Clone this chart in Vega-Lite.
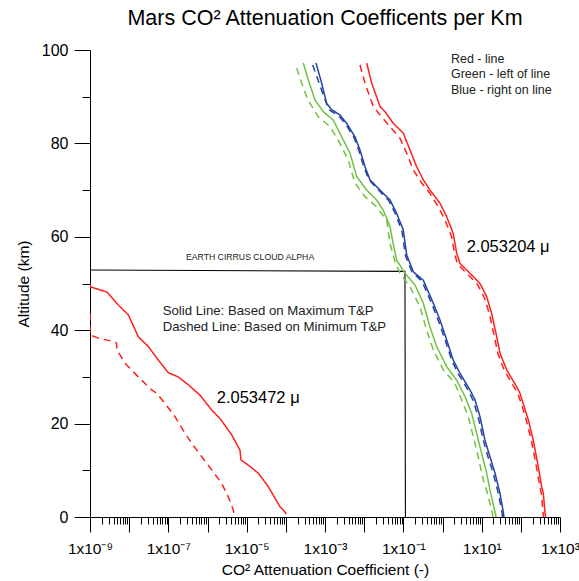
{
  "$schema": "https://vega.github.io/schema/vega-lite/v6.json",
  "width": 470,
  "height": 467,
  "autosize": {"type": "none"},
  "padding": {"left": 90, "top": 50, "right": 19, "bottom": 64},
  "background": "white",
  "config": {"view": {"stroke": null}, "font": "Liberation Sans"},
  "title": {"text": "Mars CO² Attenuation Coefficents per Km", "fontSize": 21.5, "font": "Liberation Sans", "fontWeight": "normal", "color": "black", "anchor": "middle", "offset": 13},
  "datasets": {
    "curves": [
      {"series": "r1", "style": "solid", "i": 0, "coef": 1e-9, "alt": 50.0},
      {"series": "r1", "style": "solid", "i": 1, "coef": 1e-9, "alt": 49.3},
      {"series": "r1", "style": "solid", "i": 2, "coef": 2.67e-9, "alt": 48.2},
      {"series": "r1", "style": "solid", "i": 3, "coef": 5.27e-9, "alt": 45.4},
      {"series": "r1", "style": "solid", "i": 4, "coef": 9.5e-9, "alt": 43.3},
      {"series": "r1", "style": "solid", "i": 5, "coef": 1.71e-8, "alt": 38.6},
      {"series": "r1", "style": "solid", "i": 6, "coef": 3.08e-8, "alt": 36.5},
      {"series": "r1", "style": "solid", "i": 7, "coef": 5.55e-8, "alt": 33.6},
      {"series": "r1", "style": "solid", "i": 8, "coef": 9.98e-8, "alt": 30.9},
      {"series": "r1", "style": "solid", "i": 9, "coef": 1.79e-7, "alt": 30.0},
      {"series": "r1", "style": "solid", "i": 10, "coef": 3.24e-7, "alt": 28.3},
      {"series": "r1", "style": "solid", "i": 11, "coef": 6.43e-7, "alt": 26.1},
      {"series": "r1", "style": "solid", "i": 12, "coef": 1.28e-6, "alt": 22.9},
      {"series": "r1", "style": "solid", "i": 13, "coef": 2.08e-6, "alt": 21.1},
      {"series": "r1", "style": "solid", "i": 14, "coef": 4.15e-6, "alt": 17.6},
      {"series": "r1", "style": "solid", "i": 15, "coef": 6.75e-6, "alt": 14.3},
      {"series": "r1", "style": "solid", "i": 16, "coef": 7.16e-6, "alt": 12.2},
      {"series": "r1", "style": "solid", "i": 17, "coef": 1.10e-5, "alt": 11.1},
      {"series": "r1", "style": "solid", "i": 18, "coef": 1.98e-5, "alt": 9.4},
      {"series": "r1", "style": "solid", "i": 19, "coef": 3.56e-5, "alt": 6.5},
      {"series": "r1", "style": "solid", "i": 20, "coef": 7.10e-5, "alt": 2.2},
      {"series": "r1", "style": "solid", "i": 21, "coef": 9.5e-5, "alt": 1.1},
      {"series": "r1", "style": "solid", "i": 22, "coef": 1.02e-4, "alt": 0.6},

      {"series": "r1", "style": "dashed", "i": 0, "coef": 1e-9, "alt": 43.6},
      {"series": "r1", "style": "dashed", "i": 1, "coef": 1e-9, "alt": 39.0},
      {"series": "r1", "style": "dashed", "i": 2, "coef": 1.63e-9, "alt": 38.3},
      {"series": "r1", "style": "dashed", "i": 3, "coef": 4.35e-9, "alt": 37.5},
      {"series": "r1", "style": "dashed", "i": 4, "coef": 4.80e-9, "alt": 37.2},
      {"series": "r1", "style": "dashed", "i": 5, "coef": 4.80e-9, "alt": 35.9},
      {"series": "r1", "style": "dashed", "i": 6, "coef": 7.83e-9, "alt": 32.9},
      {"series": "r1", "style": "dashed", "i": 7, "coef": 1.71e-8, "alt": 30.0},
      {"series": "r1", "style": "dashed", "i": 8, "coef": 3.76e-8, "alt": 27.2},
      {"series": "r1", "style": "dashed", "i": 9, "coef": 5.05e-8, "alt": 26.5},
      {"series": "r1", "style": "dashed", "i": 10, "coef": 8.22e-8, "alt": 24.3},
      {"series": "r1", "style": "dashed", "i": 11, "coef": 1.48e-7, "alt": 21.5},
      {"series": "r1", "style": "dashed", "i": 12, "coef": 2.66e-7, "alt": 17.9},
      {"series": "r1", "style": "dashed", "i": 13, "coef": 3.94e-7, "alt": 15.8},
      {"series": "r1", "style": "dashed", "i": 14, "coef": 7.11e-7, "alt": 12.9},
      {"series": "r1", "style": "dashed", "i": 15, "coef": 1.28e-6, "alt": 10.1},
      {"series": "r1", "style": "dashed", "i": 16, "coef": 2.30e-6, "alt": 7.2},
      {"series": "r1", "style": "dashed", "i": 17, "coef": 3.40e-6, "alt": 4.3},
      {"series": "r1", "style": "dashed", "i": 18, "coef": 4.55e-6, "alt": 1.5},
      {"series": "r1", "style": "dashed", "i": 19, "coef": 4.7e-6, "alt": 0.8},

      {"series": "b", "style": "solid", "i": 0, "coef": 5.89e-4, "alt": 97.2},
      {"series": "b", "style": "solid", "i": 1, "coef": 8.22e-4, "alt": 92.9},
      {"series": "b", "style": "solid", "i": 2, "coef": 1.10e-3, "alt": 88.6},
      {"series": "b", "style": "solid", "i": 3, "coef": 1.48e-3, "alt": 87.2},
      {"series": "b", "style": "solid", "i": 4, "coef": 2.41e-3, "alt": 86.1},
      {"series": "b", "style": "solid", "i": 5, "coef": 3.57e-3, "alt": 84.3},
      {"series": "b", "style": "solid", "i": 6, "coef": 5.82e-3, "alt": 81.4},
      {"series": "b", "style": "solid", "i": 7, "coef": 7.82e-3, "alt": 78.6},
      {"series": "b", "style": "solid", "i": 8, "coef": 1.05e-2, "alt": 75.0},
      {"series": "b", "style": "solid", "i": 9, "coef": 1.41e-2, "alt": 72.2},
      {"series": "b", "style": "solid", "i": 10, "coef": 2.54e-2, "alt": 70.0},
      {"series": "b", "style": "solid", "i": 11, "coef": 4.56e-2, "alt": 67.9},
      {"series": "b", "style": "solid", "i": 12, "coef": 6.76e-2, "alt": 65.0},
      {"series": "b", "style": "solid", "i": 13, "coef": 9.95e-2, "alt": 61.5},
      {"series": "b", "style": "solid", "i": 14, "coef": 0.122, "alt": 56.1},
      {"series": "b", "style": "solid", "i": 15, "coef": 0.180, "alt": 52.5},
      {"series": "b", "style": "solid", "i": 16, "coef": 0.323, "alt": 50.7},
      {"series": "b", "style": "solid", "i": 17, "coef": 0.581, "alt": 45.8},
      {"series": "b", "style": "solid", "i": 18, "coef": 0.861, "alt": 42.2},
      {"series": "b", "style": "solid", "i": 19, "coef": 1.28, "alt": 37.9},
      {"series": "b", "style": "solid", "i": 20, "coef": 1.88, "alt": 33.6},
      {"series": "b", "style": "solid", "i": 21, "coef": 2.79, "alt": 30.8},
      {"series": "b", "style": "solid", "i": 22, "coef": 5.02, "alt": 27.2},
      {"series": "b", "style": "solid", "i": 23, "coef": 6.75, "alt": 25.1},
      {"series": "b", "style": "solid", "i": 24, "coef": 9.06, "alt": 21.5},
      {"series": "b", "style": "solid", "i": 25, "coef": 12.1, "alt": 16.5},
      {"series": "b", "style": "solid", "i": 26, "coef": 16.3, "alt": 12.9},
      {"series": "b", "style": "solid", "i": 27, "coef": 21.9, "alt": 9.4},
      {"series": "b", "style": "solid", "i": 28, "coef": 29.3, "alt": 5.1},
      {"series": "b", "style": "solid", "i": 29, "coef": 35.6, "alt": 1.1},
      {"series": "b", "style": "solid", "i": 30, "coef": 37.1, "alt": 0},

      {"series": "b", "style": "dashed", "i": 0, "coef": 4.85e-4, "alt": 96.8},
      {"series": "b", "style": "dashed", "i": 1, "coef": 6.62e-4, "alt": 93.6},
      {"series": "b", "style": "dashed", "i": 2, "coef": 9.03e-4, "alt": 90.4},
      {"series": "b", "style": "dashed", "i": 3, "coef": 1.26e-3, "alt": 87.2},
      {"series": "b", "style": "dashed", "i": 4, "coef": 2.21e-3, "alt": 85.9},
      {"series": "b", "style": "dashed", "i": 5, "coef": 3.33e-3, "alt": 84.2},
      {"series": "b", "style": "dashed", "i": 6, "coef": 5.50e-3, "alt": 81.3},
      {"series": "b", "style": "dashed", "i": 7, "coef": 7.38e-3, "alt": 78.4},
      {"series": "b", "style": "dashed", "i": 8, "coef": 9.89e-3, "alt": 74.9},
      {"series": "b", "style": "dashed", "i": 9, "coef": 1.33e-2, "alt": 72.2},
      {"series": "b", "style": "dashed", "i": 10, "coef": 2.39e-2, "alt": 69.9},
      {"series": "b", "style": "dashed", "i": 11, "coef": 4.30e-2, "alt": 67.7},
      {"series": "b", "style": "dashed", "i": 12, "coef": 6.30e-2, "alt": 64.9},
      {"series": "b", "style": "dashed", "i": 13, "coef": 9.23e-2, "alt": 61.2},
      {"series": "b", "style": "dashed", "i": 14, "coef": 0.114, "alt": 55.9},
      {"series": "b", "style": "dashed", "i": 15, "coef": 0.166, "alt": 52.5},
      {"series": "b", "style": "dashed", "i": 16, "coef": 0.299, "alt": 50.5},
      {"series": "b", "style": "dashed", "i": 17, "coef": 0.538, "alt": 45.6},
      {"series": "b", "style": "dashed", "i": 18, "coef": 0.789, "alt": 42.0},
      {"series": "b", "style": "dashed", "i": 19, "coef": 1.19, "alt": 37.7},
      {"series": "b", "style": "dashed", "i": 20, "coef": 1.75, "alt": 33.4},
      {"series": "b", "style": "dashed", "i": 21, "coef": 2.56, "alt": 30.6},
      {"series": "b", "style": "dashed", "i": 22, "coef": 4.60, "alt": 27.0},
      {"series": "b", "style": "dashed", "i": 23, "coef": 6.18, "alt": 24.8},
      {"series": "b", "style": "dashed", "i": 24, "coef": 8.28, "alt": 21.2},
      {"series": "b", "style": "dashed", "i": 25, "coef": 11.1, "alt": 16.3},
      {"series": "b", "style": "dashed", "i": 26, "coef": 14.9, "alt": 12.6},
      {"series": "b", "style": "dashed", "i": 27, "coef": 20.0, "alt": 9.2},
      {"series": "b", "style": "dashed", "i": 28, "coef": 26.9, "alt": 4.9},
      {"series": "b", "style": "dashed", "i": 29, "coef": 33.0, "alt": 1.1},
      {"series": "b", "style": "dashed", "i": 30, "coef": 34.0, "alt": 0},

      {"series": "g", "style": "solid", "i": 0, "coef": 2.79e-4, "alt": 97.2},
      {"series": "g", "style": "solid", "i": 1, "coef": 3.74e-4, "alt": 93.6},
      {"series": "g", "style": "solid", "i": 2, "coef": 5.55e-4, "alt": 89.3},
      {"series": "g", "style": "solid", "i": 3, "coef": 9.03e-4, "alt": 86.8},
      {"series": "g", "style": "solid", "i": 4, "coef": 1.63e-3, "alt": 85.0},
      {"series": "g", "style": "solid", "i": 5, "coef": 2.67e-3, "alt": 81.4},
      {"series": "g", "style": "solid", "i": 6, "coef": 4.35e-3, "alt": 77.9},
      {"series": "g", "style": "solid", "i": 7, "coef": 6.44e-3, "alt": 72.9},
      {"series": "g", "style": "solid", "i": 8, "coef": 1.16e-2, "alt": 70.0},
      {"series": "g", "style": "solid", "i": 9, "coef": 2.08e-2, "alt": 67.9},
      {"series": "g", "style": "solid", "i": 10, "coef": 3.08e-2, "alt": 65.7},
      {"series": "g", "style": "solid", "i": 11, "coef": 4.56e-2, "alt": 62.2},
      {"series": "g", "style": "solid", "i": 12, "coef": 5.60e-2, "alt": 58.2},
      {"series": "g", "style": "solid", "i": 13, "coef": 6.76e-2, "alt": 55.0},
      {"series": "g", "style": "solid", "i": 14, "coef": 0.110, "alt": 52.2},
      {"series": "g", "style": "solid", "i": 15, "coef": 0.198, "alt": 49.7},
      {"series": "g", "style": "solid", "i": 16, "coef": 0.323, "alt": 45.8},
      {"series": "g", "style": "solid", "i": 17, "coef": 0.479, "alt": 40.7},
      {"series": "g", "style": "solid", "i": 18, "coef": 0.710, "alt": 36.5},
      {"series": "g", "style": "solid", "i": 19, "coef": 1.28, "alt": 32.2},
      {"series": "g", "style": "solid", "i": 20, "coef": 2.30, "alt": 29.3},
      {"series": "g", "style": "solid", "i": 21, "coef": 3.75, "alt": 25.8},
      {"series": "g", "style": "solid", "i": 22, "coef": 5.56, "alt": 22.2},
      {"series": "g", "style": "solid", "i": 23, "coef": 7.45, "alt": 17.9},
      {"series": "g", "style": "solid", "i": 24, "coef": 10.0, "alt": 13.6},
      {"series": "g", "style": "solid", "i": 25, "coef": 13.4, "alt": 9.4},
      {"series": "g", "style": "solid", "i": 26, "coef": 16.3, "alt": 5.8},
      {"series": "g", "style": "solid", "i": 27, "coef": 21.9, "alt": 1.1},
      {"series": "g", "style": "solid", "i": 28, "coef": 23.2, "alt": 0},

      {"series": "g", "style": "dashed", "i": 0, "coef": 1.89e-4, "alt": 96.1},
      {"series": "g", "style": "dashed", "i": 1, "coef": 2.54e-4, "alt": 92.9},
      {"series": "g", "style": "dashed", "i": 2, "coef": 3.67e-4, "alt": 89.3},
      {"series": "g", "style": "dashed", "i": 3, "coef": 6.75e-4, "alt": 85.7},
      {"series": "g", "style": "dashed", "i": 4, "coef": 1.34e-3, "alt": 83.6},
      {"series": "g", "style": "dashed", "i": 5, "coef": 2.41e-3, "alt": 80.0},
      {"series": "g", "style": "dashed", "i": 6, "coef": 3.93e-3, "alt": 76.4},
      {"series": "g", "style": "dashed", "i": 7, "coef": 5.82e-3, "alt": 71.5},
      {"series": "g", "style": "dashed", "i": 8, "coef": 1.05e-2, "alt": 68.6},
      {"series": "g", "style": "dashed", "i": 9, "coef": 2.08e-2, "alt": 66.4},
      {"series": "g", "style": "dashed", "i": 10, "coef": 3.76e-2, "alt": 63.6},
      {"series": "g", "style": "dashed", "i": 11, "coef": 4.56e-2, "alt": 58.6},
      {"series": "g", "style": "dashed", "i": 12, "coef": 6.12e-2, "alt": 54.7},
      {"series": "g", "style": "dashed", "i": 13, "coef": 8.20e-2, "alt": 52.2},
      {"series": "g", "style": "dashed", "i": 14, "coef": 0.148, "alt": 49.3},
      {"series": "g", "style": "dashed", "i": 15, "coef": 0.266, "alt": 45.0},
      {"series": "g", "style": "dashed", "i": 16, "coef": 0.394, "alt": 40.0},
      {"series": "g", "style": "dashed", "i": 17, "coef": 0.581, "alt": 35.8},
      {"series": "g", "style": "dashed", "i": 18, "coef": 1.05, "alt": 31.5},
      {"series": "g", "style": "dashed", "i": 19, "coef": 2.08, "alt": 28.6},
      {"series": "g", "style": "dashed", "i": 20, "coef": 3.08, "alt": 25.1},
      {"series": "g", "style": "dashed", "i": 21, "coef": 4.55, "alt": 21.5},
      {"series": "g", "style": "dashed", "i": 22, "coef": 6.11, "alt": 17.2},
      {"series": "g", "style": "dashed", "i": 23, "coef": 8.18, "alt": 12.9},
      {"series": "g", "style": "dashed", "i": 24, "coef": 11.0, "alt": 7.9},
      {"series": "g", "style": "dashed", "i": 25, "coef": 14.0, "alt": 5.1},
      {"series": "g", "style": "dashed", "i": 26, "coef": 18.5, "alt": 1.1},
      {"series": "g", "style": "dashed", "i": 27, "coef": 19.4, "alt": 0},

      {"series": "r2", "style": "solid", "i": 0, "coef": 1.16e-2, "alt": 97.2},
      {"series": "r2", "style": "solid", "i": 1, "coef": 1.56e-2, "alt": 92.9},
      {"series": "r2", "style": "solid", "i": 2, "coef": 2.54e-2, "alt": 87.9},
      {"series": "r2", "style": "solid", "i": 3, "coef": 3.40e-2, "alt": 86.8},
      {"series": "r2", "style": "solid", "i": 4, "coef": 5.53e-2, "alt": 84.3},
      {"series": "r2", "style": "solid", "i": 5, "coef": 9.95e-2, "alt": 82.2},
      {"series": "r2", "style": "solid", "i": 6, "coef": 0.148, "alt": 78.6},
      {"series": "r2", "style": "solid", "i": 7, "coef": 0.219, "alt": 75.0},
      {"series": "r2", "style": "solid", "i": 8, "coef": 0.323, "alt": 72.2},
      {"series": "r2", "style": "solid", "i": 9, "coef": 0.479, "alt": 70.0},
      {"series": "r2", "style": "solid", "i": 10, "coef": 0.861, "alt": 67.2},
      {"series": "r2", "style": "solid", "i": 11, "coef": 1.28, "alt": 64.3},
      {"series": "r2", "style": "solid", "i": 12, "coef": 1.88, "alt": 60.7},
      {"series": "r2", "style": "solid", "i": 13, "coef": 2.30, "alt": 56.5},
      {"series": "r2", "style": "solid", "i": 14, "coef": 2.79, "alt": 54.3},
      {"series": "r2", "style": "solid", "i": 15, "coef": 5.02, "alt": 52.2},
      {"series": "r2", "style": "solid", "i": 16, "coef": 9.06, "alt": 50.0},
      {"series": "r2", "style": "solid", "i": 17, "coef": 13.4, "alt": 47.2},
      {"series": "r2", "style": "solid", "i": 18, "coef": 18.0, "alt": 43.6},
      {"series": "r2", "style": "solid", "i": 19, "coef": 24.2, "alt": 38.6},
      {"series": "r2", "style": "solid", "i": 20, "coef": 29.3, "alt": 35.1},
      {"series": "r2", "style": "solid", "i": 21, "coef": 43.5, "alt": 31.5},
      {"series": "r2", "style": "solid", "i": 22, "coef": 78.2, "alt": 27.9},
      {"series": "r2", "style": "solid", "i": 23, "coef": 95.1, "alt": 26.5},
      {"series": "r2", "style": "solid", "i": 24, "coef": 115, "alt": 24.3},
      {"series": "r2", "style": "solid", "i": 25, "coef": 155, "alt": 20.8},
      {"series": "r2", "style": "solid", "i": 26, "coef": 207, "alt": 16.5},
      {"series": "r2", "style": "solid", "i": 27, "coef": 279, "alt": 10.8},
      {"series": "r2", "style": "solid", "i": 28, "coef": 340, "alt": 6.5},
      {"series": "r2", "style": "solid", "i": 29, "coef": 374, "alt": 5.1},
      {"series": "r2", "style": "solid", "i": 30, "coef": 413, "alt": 1.1},
      {"series": "r2", "style": "solid", "i": 31, "coef": 426, "alt": 0},

      {"series": "r2", "style": "dashed", "i": 0, "coef": 7.82e-3, "alt": 96.8},
      {"series": "r2", "style": "dashed", "i": 1, "coef": 1.05e-2, "alt": 92.9},
      {"series": "r2", "style": "dashed", "i": 2, "coef": 1.71e-2, "alt": 87.9},
      {"series": "r2", "style": "dashed", "i": 3, "coef": 2.54e-2, "alt": 86.1},
      {"series": "r2", "style": "dashed", "i": 4, "coef": 4.56e-2, "alt": 83.6},
      {"series": "r2", "style": "dashed", "i": 5, "coef": 8.20e-2, "alt": 81.1},
      {"series": "r2", "style": "dashed", "i": 6, "coef": 0.122, "alt": 77.9},
      {"series": "r2", "style": "dashed", "i": 7, "coef": 0.180, "alt": 74.3},
      {"series": "r2", "style": "dashed", "i": 8, "coef": 0.294, "alt": 71.5},
      {"series": "r2", "style": "dashed", "i": 9, "coef": 0.479, "alt": 69.3},
      {"series": "r2", "style": "dashed", "i": 10, "coef": 0.780, "alt": 66.4},
      {"series": "r2", "style": "dashed", "i": 11, "coef": 1.16, "alt": 63.6},
      {"series": "r2", "style": "dashed", "i": 12, "coef": 1.71, "alt": 60.0},
      {"series": "r2", "style": "dashed", "i": 13, "coef": 2.08, "alt": 56.1},
      {"series": "r2", "style": "dashed", "i": 14, "coef": 2.41, "alt": 54.2},
      {"series": "r2", "style": "dashed", "i": 15, "coef": 4.34, "alt": 52.0},
      {"series": "r2", "style": "dashed", "i": 16, "coef": 7.82, "alt": 49.8},
      {"series": "r2", "style": "dashed", "i": 17, "coef": 11.8, "alt": 46.9},
      {"series": "r2", "style": "dashed", "i": 18, "coef": 15.8, "alt": 43.5},
      {"series": "r2", "style": "dashed", "i": 19, "coef": 21.2, "alt": 38.5},
      {"series": "r2", "style": "dashed", "i": 20, "coef": 26.1, "alt": 34.9},
      {"series": "r2", "style": "dashed", "i": 21, "coef": 38.2, "alt": 31.3},
      {"series": "r2", "style": "dashed", "i": 22, "coef": 68.7, "alt": 27.7},
      {"series": "r2", "style": "dashed", "i": 23, "coef": 84.5, "alt": 26.3},
      {"series": "r2", "style": "dashed", "i": 24, "coef": 104, "alt": 24.2},
      {"series": "r2", "style": "dashed", "i": 25, "coef": 139, "alt": 20.6},
      {"series": "r2", "style": "dashed", "i": 26, "coef": 187, "alt": 16.3},
      {"series": "r2", "style": "dashed", "i": 27, "coef": 251, "alt": 10.7},
      {"series": "r2", "style": "dashed", "i": 28, "coef": 308, "alt": 6.4},
      {"series": "r2", "style": "dashed", "i": 29, "coef": 337, "alt": 4.9},
      {"series": "r2", "style": "dashed", "i": 30, "coef": 367, "alt": 1.1},
      {"series": "r2", "style": "dashed", "i": 31, "coef": 378, "alt": 0}
    ],
    "cirrus": [
      {"i": 0, "coef": 1e-9, "alt": 52.9},
      {"i": 1, "coef": 0.11, "alt": 52.6},
      {"i": 2, "coef": 0.113, "alt": 0}
    ]
  },
  "encoding": {
    "x": {
      "field": "coef", "type": "quantitative",
      "scale": {"type": "log", "domain": [1e-9, 1000], "nice": false},
      "axis": {
        "values": [1e-9,2e-9,3e-9,4e-9,5e-9,6e-9,7e-9,8e-9,9e-9,1e-8,2e-8,3e-8,4e-8,5e-8,6e-8,7e-8,8e-8,9e-8,1e-7,2e-7,3e-7,4e-7,5e-7,6e-7,7e-7,8e-7,9e-7,1e-6,2e-6,3e-6,4e-6,5e-6,6e-6,7e-6,8e-6,9e-6,1e-5,2e-5,3e-5,4e-5,5e-5,6e-5,7e-5,8e-5,9e-5,1e-4,2e-4,3e-4,4e-4,5e-4,6e-4,7e-4,8e-4,9e-4,0.001,0.002,0.003,0.004,0.005,0.006,0.007,0.008,0.009,0.01,0.02,0.03,0.04,0.05,0.06,0.07,0.08,0.09,0.1,0.2,0.3,0.4,0.5,0.6,0.7,0.8,0.9,1,2,3,4,5,6,7,8,9,10,20,30,40,50,60,70,80,90,100,200,300,400,500,600,700,800,900,1000],
        "labelExpr": "datum.value==1e-9?'1x10⁻⁹':datum.value==1e-7?'1x10⁻⁷':datum.value==1e-5?'1x10⁻⁵':datum.value==0.001?'1x10⁻³':datum.value==0.1?'1x10⁻¹':datum.value==10?'1x10¹':datum.value==1000?'1x10³':''",
        "tickSize": {"condition": {"test": "abs(log(datum.value)/LN10 - round(log(datum.value)/LN10)) < 0.01", "value": 15}, "value": 7},
        "grid": false,
        "domainColor": "black",
        "tickColor": "black",
        "labelFontSize": 15.5,
        "labelColor": "black",
        "labelFont": "Liberation Sans",
        "labelOverlap": false,
        "labelFlush": false,
        "labelPadding": 9,
        "title": "CO² Attenuation Coefficient (-)",
        "titleFont": "Liberation Sans",
        "titleFontSize": 15.5,
        "titleFontWeight": "normal",
        "titleColor": "black",
        "titlePadding": 6
      }
    },
    "y": {
      "field": "alt", "type": "quantitative",
      "scale": {"domain": [0, 100], "nice": false},
      "axis": {
        "values": [0,10,20,30,40,50,60,70,80,90,100],
        "labelExpr": "datum.value % 20 == 0 ? datum.label : ''",
        "tickSize": {"condition": {"test": "datum.value % 20 == 0", "value": 16}, "value": 8},
        "grid": false,
        "domainColor": "black",
        "tickColor": "black",
        "labelFontSize": 16,
        "labelColor": "black",
        "labelFont": "Liberation Sans",
        "labelOverlap": false,
        "labelPadding": 6,
        "title": "Altitude (km)",
        "titleFont": "Liberation Sans",
        "titleFontSize": 15.5,
        "titleFontWeight": "normal",
        "titleColor": "black",
        "titlePadding": 10
      }
    }
  },
  "layer": [
    {
      "data": {"name": "cirrus"},
      "mark": {"type": "line", "color": "black", "strokeWidth": 1.1, "clip": true},
      "encoding": {"order": {"field": "i", "type": "quantitative"}}
    },
    {
      "data": {"name": "curves"},
      "mark": {"type": "line", "strokeWidth": 1.5, "clip": true},
      "encoding": {
        "color": {"field": "series", "type": "nominal", "scale": {"domain": ["r1", "r2", "b", "g"], "range": ["#ff1f1f", "#ff1f1f", "#2443a3", "#72c043"]}, "legend": null},
        "strokeDash": {"field": "style", "type": "nominal", "scale": {"domain": ["solid", "dashed"], "range": [[1, 0], [7, 5]]}, "legend": null},
        "detail": {"field": "series"},
        "order": {"field": "i", "type": "quantitative"}
      }
    },
    {
      "data": {"values": [{"label": "EARTH CIRRUS CLOUD ALPHA", "coef": 1.22e-5, "alt": 55.7}]},
      "mark": {"type": "text", "fontSize": 8.7, "align": "center", "baseline": "middle", "color": "#222", "font": "Liberation Sans"},
      "encoding": {"text": {"field": "label"}}
    },
    {
      "data": {"values": [
        {"label": "Solid Line: Based on Maximum T&P", "coef": 7.18e-8, "alt": 44.1},
        {"label": "Dashed Line: Based on Minimum T&P", "coef": 7.18e-8, "alt": 40.7}
      ]},
      "mark": {"type": "text", "fontSize": 13.2, "align": "left", "baseline": "middle", "color": "#222", "font": "Liberation Sans"},
      "encoding": {"text": {"field": "label"}}
    },
    {
      "data": {"values": [
        {"label": "2.053472 μ", "coef": 1.72e-6, "alt": 25.5},
        {"label": "2.053204 μ", "coef": 4.14, "alt": 57.8}
      ]},
      "mark": {"type": "text", "fontSize": 16.5, "align": "left", "baseline": "middle", "color": "black", "font": "Liberation Sans"},
      "encoding": {"text": {"field": "label"}}
    },
    {
      "data": {"values": [
        {"label": "Red - line", "coef": 1.64, "alt": 98.0},
        {"label": "Green - left of line", "coef": 1.64, "alt": 94.8},
        {"label": "Blue - right on line", "coef": 1.64, "alt": 91.5}
      ]},
      "mark": {"type": "text", "fontSize": 12.5, "align": "left", "baseline": "middle", "color": "#222", "font": "Liberation Sans"},
      "encoding": {"text": {"field": "label"}}
    }
  ]
}
